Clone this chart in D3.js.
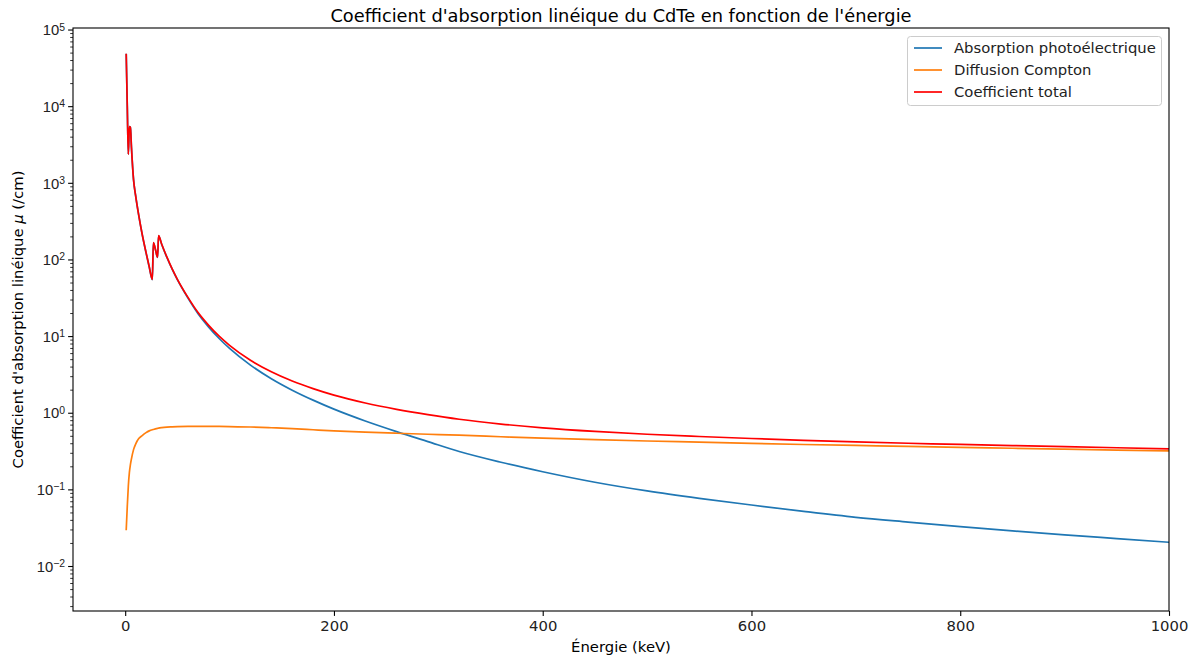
<!DOCTYPE html>
<html><head><meta charset="utf-8">
<script src="https://cdn.jsdelivr.net/npm/d3@7"></script>
<style>
body{margin:0;background:#fff;}
svg{font-family:"DejaVu Sans",sans-serif;}
</style></head>
<body><svg id="c" width="1195" height="661"></svg>
<script>
// Energy (keV)
const energies = [1,2,3,4,5,6,8,10,13,16,20,23,26,27,29,31,32,35,40,45,50,60,70,80,90,100,120,140,160,180,200,230,260,290,320,360,400,450,500,550,600,650,700,750,800,850,900,950,1000];
// Absorption photoélectrique (/cm)
const photo = [47000,10000,2350,5400,5300,2900,1100,680,375,222,122,80,54.5,165,134,106,203,157,106,74.6,54.4,31.5,19.4,13.1,9.3,6.9,4.18,2.78,1.97,1.46,1.114,0.78,0.567,0.42,0.312,0.226,0.17,0.124,0.0955,0.0765,0.0625,0.0516,0.0432,0.0374,0.0326,0.0287,0.0255,0.0228,0.0204];
// Diffusion Compton (/cm)
const compton = [0.030,0.06,0.11,0.165,0.21,0.25,0.33,0.39,0.46,0.50,0.55,0.58,0.60,0.605,0.615,0.625,0.63,0.64,0.65,0.655,0.66,0.665,0.665,0.665,0.662,0.658,0.651,0.637,0.621,0.60,0.58,0.558,0.54,0.524,0.51,0.486,0.465,0.446,0.428,0.413,0.398,0.385,0.374,0.363,0.353,0.344,0.335,0.326,0.317];
// Coefficient total (/cm)
const total = [47000,10000,2350,5400,5300,2900,1100,680,375,223,123,81,55,166,135,107,204,158,107,75.3,55.1,32.2,20.1,13.8,9.96,7.56,4.83,3.42,2.59,2.06,1.694,1.338,1.107,0.944,0.822,0.712,0.635,0.570,0.524,0.490,0.461,0.437,0.417,0.400,0.386,0.373,0.361,0.349,0.337];

const xTicks = [0,200,400,600,800,1000];
const yExps = [-2,-1,0,1,2,3,4,5];
const seriesNames = ["Absorption photoélectrique","Diffusion Compton","Coefficient total"];
const seriesColors = ["#1f77b4","#ff7f0e","#ff0000"];

const svg = d3.select("#c");
const L=73, R=1169, T=28, B=611;
const FS = "14.8px";
const x = d3.scaleLinear().domain([-50,1000]).range([L,R]);
const y = d3.scaleLog().domain([Math.pow(10,-2.587),Math.pow(10,5.02)]).range([B,T]);

svg.append("defs").append("clipPath").attr("id","clip")
  .append("rect").attr("x",L).attr("y",T).attr("width",R-L).attr("height",B-T);

// data lines
const series = [photo, compton, total];
const line = d3.line().curve(d3.curveMonotoneX);
const g = svg.append("g").attr("clip-path","url(#clip)");
series.forEach((vals,i)=>{
  const pts = energies.map((e,j)=>[x(e), y(vals[j])]);
  g.append("path").attr("d", line(pts)).attr("fill","none")
    .attr("stroke", seriesColors[i]).attr("stroke-width",1.7)
    .attr("stroke-linejoin","round").attr("stroke-linecap","square");
});

// axes
const xAxis = d3.axisBottom(x).tickValues(xTicks).tickSize(4.9).tickPadding(4.5).tickFormat(d3.format("d"));
const gx = svg.append("g").attr("transform",`translate(0,${B})`).call(xAxis);
gx.select(".domain").remove();
gx.selectAll("line").attr("stroke","#000").attr("stroke-width",1.1);
gx.selectAll("text").attr("font-size",FS).attr("fill","#222").attr("font-family","DejaVu Sans");

const majors = yExps.map(e=>Math.pow(10,e));
const minors = [];
for(let e=-3;e<=4;e++){for(let k=2;k<=9;k++){const v=k*Math.pow(10,e); if(v>=y.domain()[0]&&v<=y.domain()[1]) minors.push(v);}}
const gyMin = svg.append("g").attr("transform",`translate(${L},0)`)
  .call(d3.axisLeft(y).tickValues(minors).tickSize(2.8).tickFormat(""));
gyMin.select(".domain").remove();
gyMin.selectAll("line").attr("stroke","#000").attr("stroke-width",0.8);
const gy = svg.append("g").attr("transform",`translate(${L},0)`)
  .call(d3.axisLeft(y).tickValues(majors).tickSize(4.9).tickFormat(""));
gy.select(".domain").remove();
gy.selectAll("line").attr("stroke","#000").attr("stroke-width",1.1);
gy.selectAll(".tick").each(function(d){
  const ex = Math.round(Math.log10(d));
  const t = d3.select(this).append("text").attr("x",-8).attr("dy","0.35em")
    .attr("text-anchor","end").attr("fill","#222").attr("font-size",FS);
  t.append("tspan").text("10");
  t.append("tspan").attr("dy","-0.45em").attr("font-size","10.4px").text(ex<0?"\u2212"+(-ex):String(ex));
});

// frame
svg.append("rect").attr("x",L).attr("y",T).attr("width",R-L).attr("height",B-T)
  .attr("fill","none").attr("stroke","#000").attr("stroke-width",1.1);

// labels
svg.append("text").attr("x",(L+R)/2).attr("y",22).attr("text-anchor","middle")
  .attr("font-size","17.8px").attr("fill","#000").text("Coefficient d'absorption linéique du CdTe en fonction de l'énergie");
svg.append("text").attr("x",(L+R)/2).attr("y",652).attr("text-anchor","middle")
  .attr("font-size",FS).attr("fill","#000").text("Énergie (keV)");
const yl = svg.append("text").attr("transform",`translate(23,${(T+B)/2}) rotate(-90)`)
  .attr("text-anchor","middle").attr("font-size",FS).attr("fill","#000");
yl.append("tspan").text("Coefficient d'absorption linéique ");
yl.append("tspan").attr("font-style","italic").text("μ");
yl.append("tspan").text(" (/cm)");

// legend
const lg = svg.append("g");
lg.append("rect").attr("x",907.5).attr("y",36.5).attr("width",254).attr("height",69)
  .attr("rx",3).attr("fill","#fff").attr("fill-opacity",0.8).attr("stroke","#ccc").attr("stroke-width",1);
seriesNames.forEach((n,i)=>{
  const yy = 48 + i*22;
  lg.append("line").attr("x1",914).attr("x2",942).attr("y1",yy).attr("y2",yy)
    .attr("stroke",seriesColors[i]).attr("stroke-width",1.7);
  lg.append("text").attr("x",954).attr("y",yy+5).attr("font-size",FS).attr("fill","#222").text(n);
});
</script></body></html>
